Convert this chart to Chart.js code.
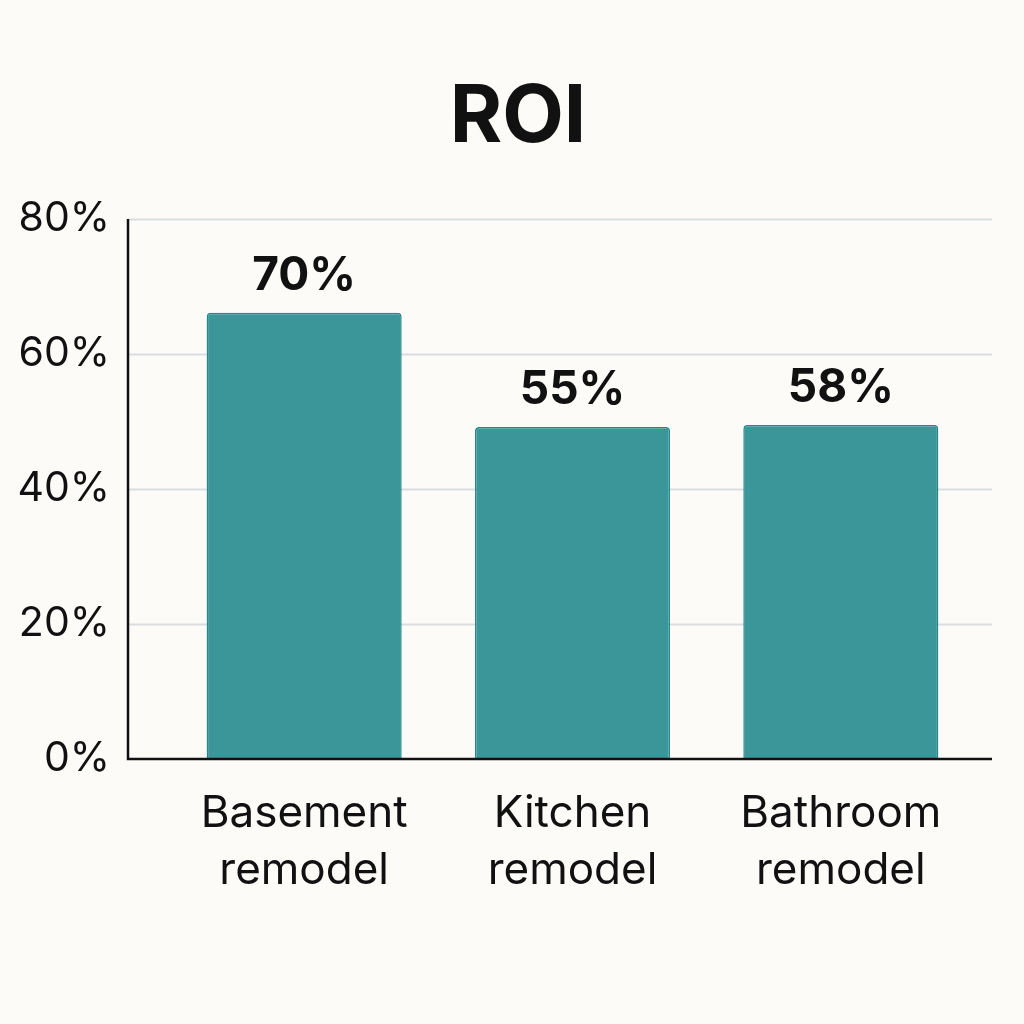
<!DOCTYPE html>
<html>
<head>
<meta charset="utf-8">
<script src="https://cdn.jsdelivr.net/npm/chart.js@4/dist/chart.umd.min.js"></script>
<style>
  html, body { margin: 0; padding: 0; background: #fcfbf8; }
  #wrap { width: 1024px; height: 1024px; }
</style>
</head>
<body>
<div id="wrap"><canvas id="c" width="1024" height="1024"></canvas></div>
<script>
const categories = [["Basement", "remodel"], ["Kitchen", "remodel"], ["Bathroom", "remodel"]];
const roiValues = [66.1, 49.2, 49.5];
const valueLabels = ["70%", "55%", "58%"];
const yTicks = [0, 20, 40, 60, 80];
const chartTitle = "ROI";

const FONT = "Inter, 'DejaVu Sans', sans-serif";

const bgPlugin = {
  id: 'bg',
  beforeDraw(chart) {
    const ctx = chart.ctx;
    ctx.save();
    ctx.fillStyle = '#fcfbf8';
    ctx.fillRect(0, 0, chart.width, chart.height);
    ctx.restore();
  }
};

const gridPlugin = {
  id: 'customGrid',
  beforeDatasetsDraw(chart) {
    const ctx = chart.ctx, a = chart.chartArea, y = chart.scales.y;
    ctx.save();
    ctx.strokeStyle = '#dadddd';
    ctx.lineWidth = 2;
    yTicks.forEach(v => {
      if (v === 0) return;
      const py = Math.round(y.getPixelForValue(v)) + 0.5;
      ctx.beginPath();
      ctx.moveTo(a.left - 42, py);
      ctx.lineTo(a.right + 17, py);
      ctx.stroke();
    });
    ctx.restore();
  },
  afterDatasetsDraw(chart) {
    const ctx = chart.ctx, a = chart.chartArea, y = chart.scales.y;
    ctx.save();
    ctx.strokeStyle = '#111111';
    ctx.lineWidth = 2.5;
    const py0 = y.getPixelForValue(0);
    const pyTop = y.getPixelForValue(80);
    ctx.beginPath();
    ctx.moveTo(a.left - 42, pyTop);
    ctx.lineTo(a.left - 42, py0);
    ctx.lineTo(a.right + 17, py0);
    ctx.stroke();
    // value labels
    const meta = chart.getDatasetMeta(0);
    ctx.fillStyle = '#111111';
    ctx.font = "bold 46px " + FONT;
    ctx.textAlign = 'center';
    ctx.textBaseline = 'alphabetic';
    meta.data.forEach((bar, i) => {
      ctx.fillText(valueLabels[i], bar.x, bar.y - 23);
    });
    ctx.restore();
  }
};

new Chart(document.getElementById('c'), {
  type: 'bar',
  data: {
    labels: categories,
    datasets: [{
      data: roiValues,
      backgroundColor: '#3a9699',
      borderColor: '#23898c',
      borderWidth: 1.5,
      borderSkipped: 'bottom',
      borderRadius: { topLeft: 4, topRight: 4, bottomLeft: 0, bottomRight: 0 },
      barPercentage: 0.727,
      categoryPercentage: 1.0
    }]
  },
  options: {
    responsive: false,
    animation: false,
    devicePixelRatio: 1,
    layout: { padding: { left: 12, right: 0, top: 0, bottom: 0 } },
    plugins: {
      legend: { display: false },
      tooltip: { enabled: false },
      title: {
        display: true,
        text: chartTitle,
        color: '#111111',
        font: { family: FONT, size: 80, weight: 'bold', lineHeight: 1.2 },
        padding: { top: 70, bottom: 53 }
      }
    },
    scales: {
      x: {
        grid: { display: false, drawTicks: false },
        border: { display: false },
        ticks: {
          color: '#111111',
          font: { family: FONT, size: 44, lineHeight: 1.3 },
          padding: 26,
          maxRotation: 0,
          autoSkip: false
        },
        afterFit(scale) { scale.height = 265; }
      },
      y: {
        min: 0,
        max: 80,
        grid: { display: false, drawTicks: false },
        border: { display: false },
        afterBuildTicks(scale) { scale.ticks = yTicks.map(v => ({ value: v })); },
        ticks: {
          color: '#111111',
          font: { family: FONT, size: 41 },
          padding: 60,
          callback: v => v + '%'
        },
        afterFit(scale) { scale.width = 158; }
      },
      yRight: {
        position: 'right',
        min: 0,
        max: 80,
        grid: { display: false, drawTicks: false },
        border: { display: false },
        ticks: { display: false },
        afterFit(scale) { scale.width = 49; }
      }
    }
  },
  plugins: [bgPlugin, gridPlugin]
});
</script>
</body>
</html>
